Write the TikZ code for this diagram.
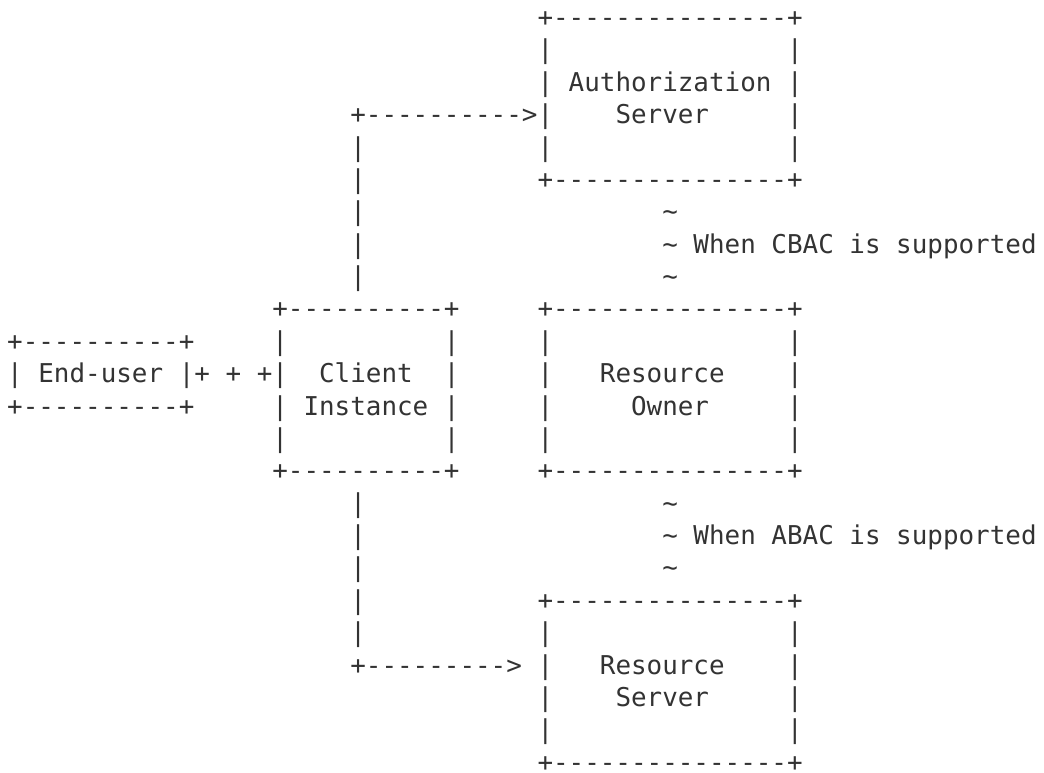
\documentclass[tikz,border=0pt]{standalone}
\usepackage{fontspec}
\setmonofont{DejaVu Sans Mono}
\usepackage{xcolor}
\usepackage{tikz}

\definecolor{ink}{HTML}{333333}

% one ascii box: name, left/right column, top/bottom row, border line
\newcommand\asciibox[6]{%
  \node[ascii] (#1 top) at (#2,#4) {#6};
  \node[ascii] (#1 bottom) at (#2,#5) {#6};
  \pgfmathtruncatemacro\firstside{#4+1}
  \pgfmathtruncatemacro\lastside{#5-1}
  \foreach \r in {\firstside,...,\lastside} {
    \node[ascii] (#1 west \r) at (#2,\r) {|};
    \node[ascii] (#1 east \r) at (#3,\r) {|};
  }
}

\begin{document}
\begin{tikzpicture}[x=11.698pt, y=-24.28pt,
    ascii/.style={anchor=base west, inner sep=0pt, outer sep=0pt, text=ink,
                  font=\ttfamily\fontsize{19.43pt}{24.28pt}\selectfont}]
    \useasboundingbox (-5.4pt,19.9pt) rectangle (777.6pt,-559.1pt);

    % boxes
    \asciibox{authz}{34}{50}{0}{5}{+---------------+}
    \asciibox{client}{17}{28}{9}{14}{+----------+}
    \asciibox{owner}{34}{50}{9}{14}{+---------------+}
    \asciibox{enduser}{0}{11}{10}{12}{+----------+}
    \asciibox{rs}{34}{50}{18}{23}{+---------------+}

    % box labels
    \node[ascii] (authz) at (36,2) {Authorization};
    \node[ascii] (authz2) at (39,3) {Server};
    \node[ascii] (client) at (20,11) {Client};
    \node[ascii] (client2) at (19,12) {Instance};
    \node[ascii] (owner) at (38,11) {Resource};
    \node[ascii] (owner2) at (40,12) {Owner};
    \node[ascii] (enduser) at (2,11) {End-user};
    \node[ascii] (rs) at (38,20) {Resource};
    \node[ascii] (rs2) at (39,21) {Server};

    % client to authorization server and resource server
    \node[ascii] (to authz) at (22,3) {+---------->};
    \foreach \r in {4,...,8}
        \node[ascii] (up \r) at (22,\r) {|};
    \foreach \r in {15,...,19}
        \node[ascii] (down \r) at (22,\r) {|};
    \node[ascii] (to rs) at (22,20) {+--------->};

    % end-user to client
    \node[ascii] (user link) at (12,11) {+ + +};

    % optional links
    \node[ascii] (cbac top) at (42,6) {\textasciitilde};
    \node[ascii] (cbac) at (42,7) {\textasciitilde{} When CBAC is supported};
    \node[ascii] (cbac bottom) at (42,8) {\textasciitilde};
    \node[ascii] (abac top) at (42,15) {\textasciitilde};
    \node[ascii] (abac) at (42,16) {\textasciitilde{} When ABAC is supported};
    \node[ascii] (abac bottom) at (42,17) {\textasciitilde};
\end{tikzpicture}
\end{document}
